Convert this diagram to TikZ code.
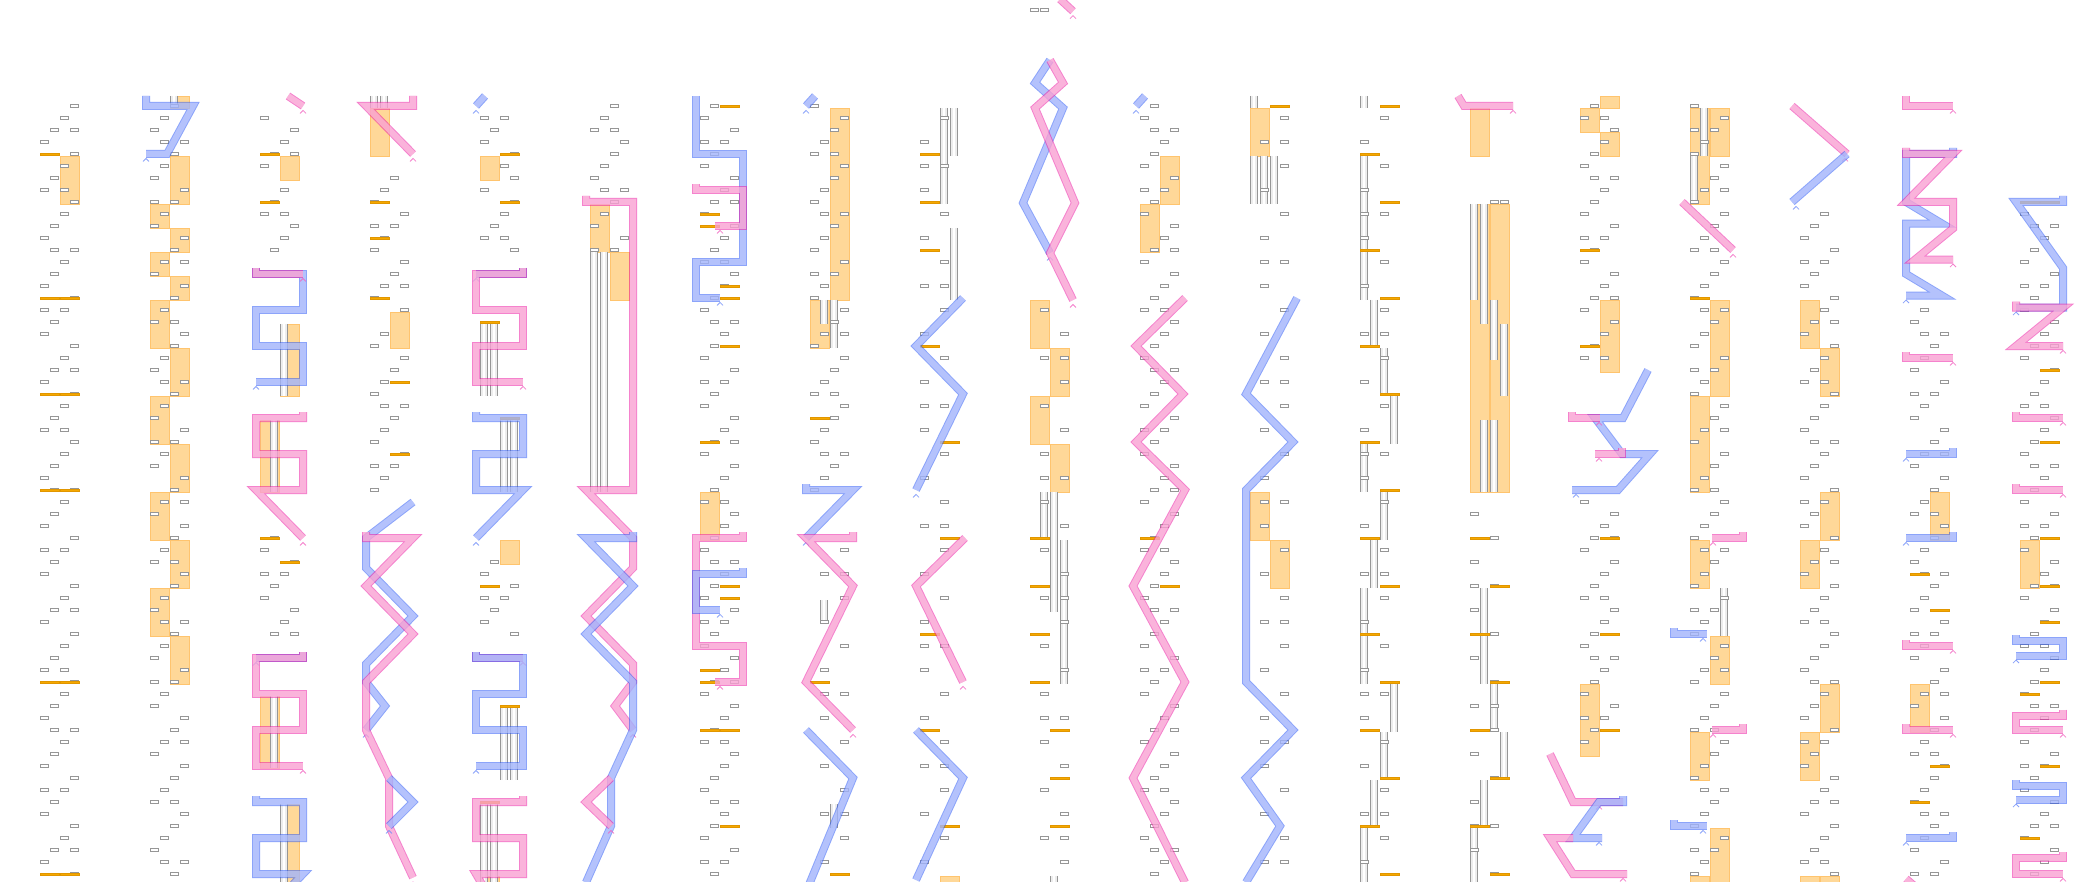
\documentclass[tikz,border=0pt]{standalone}
\definecolor{bE}{RGB}{46,91,246}
\definecolor{bD}{RGB}{213,220,255}
\definecolor{pE}{RGB}{237,28,164}
\definecolor{pD}{RGB}{255,221,232}
\definecolor{orF}{RGB}{255,216,152}
\definecolor{orB}{RGB}{255,196,110}
\definecolor{barF}{RGB}{245,168,0}
\definecolor{barB}{RGB}{225,150,0}
\definecolor{grL}{RGB}{150,150,150}
\tikzset{
 bp/.style={draw=bE,double=bD,line width=1pt,double distance=6pt,opacity=.55,line join=miter},
 pp/.style={draw=pE,double=pD,line width=1pt,double distance=6pt,opacity=.55,line join=miter},
 cbs/.style={draw=bE!70,line width=.8pt,opacity=.8},
 cps/.style={draw=pE!70,line width=.8pt,opacity=.8},
 grs/.style={draw=grL,fill=white,line width=.6pt},
 orf/.style={fill=orF,draw=orB,line width=.6pt},
 obs/.style={fill=barF,draw=barB,line width=.4pt},
}
\newcommand\mygr[2]{\foreach \n in {#2}{%
  \pgfmathtruncatemacro\myj{3-mod(\n+#1,4)}%
  \draw[grs] ({10*\myj},{\n-0.11}) rectangle ({10*\myj+8.5},{\n+0.11});%
  \pgfmathtruncatemacro\myk{mod(\n*7+#1*3,5)}%
  \ifnum\myk=0 \pgfmathtruncatemacro\myjj{mod(\myj+2,4)}\draw[grs] ({10*\myjj},{\n-0.11}) rectangle ({10*\myjj+8.5},{\n+0.11});\fi
}}
\newcommand\myor[3]{\filldraw[orf] ({10*#1},{#2+1/6}) rectangle ({10*#1+19},{#3+1/6});}
\newcommand\myob[2]{\filldraw[obs] ({10*#1},{#2-0.1}) rectangle ({10*#1+19},{#2+0.1});}
\newcommand\mybu[3]{\fill[gray!14] ({10*#1},{#2+1/6}) rectangle ({10*#1+7},{#3+1/6});
 \fill[white] ({10*#1+2.5},{#2+1/6}) rectangle ({10*#1+4.5},{#3+1/6});
 \draw[grL,line width=.7pt] ({10*#1},{#2+1/6}) -- ({10*#1},{#3+1/6}) ({10*#1+7},{#2+1/6}) -- ({10*#1+7},{#3+1/6});}
\newcommand\mycb[2]{\draw[cbs] ({#1-3},{#2+0.62}) -- ({#1},{#2+0.37}) -- ({#1+3},{#2+0.62});}
\newcommand\mycp[2]{\draw[cps] ({#1-3},{#2+0.62}) -- ({#1},{#2+0.37}) -- ({#1+3},{#2+0.62});}
\begin{document}
\begin{tikzpicture}[x=1pt,y=-12pt]
\useasboundingbox (0,-0.83333) rectangle (2100,72.66667);
\fill[white] (0,-0.83333) rectangle (2100,72.66667);
\clip (0,-0.83333) rectangle (2100,72.66667);
% ---- col 0
\begin{scope}[xshift=40pt]
\myor{2}{12}{16}
\mygr{0}{8,...,72}
\myob{0}{12} \myob{0}{24}\myob{2}{24} \myob{0}{32}\myob{2}{32} \myob{0}{40}\myob{2}{40} \myob{0}{56}\myob{2}{56} \myob{0}{72}\myob{2}{72}
\end{scope}
% ---- col 1
\begin{scope}[xshift=150pt]
\myor{2}{7}{8} \mybu{2}{7}{8}
\myor{2}{12}{16} \myor{0}{16}{18} \myor{2}{18}{20} \myor{0}{20}{22} \myor{2}{22}{24} \myor{0}{24}{28} \myor{2}{28}{32} \myor{0}{32}{36} \myor{2}{36}{40} \myor{0}{40}{44} \myor{2}{44}{48} \myor{0}{48}{52} \myor{2}{52}{56}
\mygr{1}{8,...,72}
\draw[bp] (-4,7.1667) -- (-4,8) -- (43,8) -- (17,12) -- (-4,12); \mycb{-4}{12}
\end{scope}
% ---- col 2
\begin{scope}[xshift=260pt]
\mygr{2}{9,...,20} \mygr{2}{44,...,52}
\myob{0}{12} \myor{2}{12}{14} \myob{0}{16}
\myor{2}{26}{32} \mybu{2}{26}{32}
\myor{0}{34}{40} \mybu{1}{34}{40}
\myob{0}{44} \myob{2}{46}
\myor{0}{57}{63} \mybu{1}{57}{63}
\myor{2}{66}{73} \mybu{2}{66}{73}
\draw[pp] (28,7.1667) -- (43,8); \mycp{43}{8}
\draw[bp] (-4,21.5) -- (-4,22) -- (43,22) -- (43,25) -- (-4,25) -- (-4,28) -- (43,28) -- (43,31) -- (-4,31); \mycb{-4}{31}
\draw[pp] (-4,21.5) -- (-4,22) -- (43,22); \mycp{43}{22}
\draw[pp] (43,33.5) -- (43,34) -- (-4,34) -- (-4,37) -- (43,37) -- (43,40) -- (-4,40) -- (43,44); \mycp{43}{44}
\draw[bp] (43,53.5) -- (43,54) -- (-4,54); \mycb{-4}{54}
\draw[pp] (43,53.5) -- (43,54) -- (-4,54) -- (-4,57) -- (43,57) -- (43,60) -- (-4,60) -- (-4,63) -- (43,63); \mycp{43}{63}
\draw[bp] (-4,65.5) -- (-4,66) -- (43,66) -- (43,69) -- (-4,69) -- (-4,72) -- (43,72) -- (20,74);
\end{scope}
% ---- col 3
\begin{scope}[xshift=370pt]
\mybu{0}{7}{8} \mybu{1}{7}{8}
\myor{0}{8}{12}
\mygr{3}{14,...,40}
\myob{0}{16} \myob{0}{19} \myob{0}{24} \myor{2}{25}{28} \myob{2}{31} \myob{2}{37}
\draw[pp] (43,7.1667) -- (43,8) -- (-4,8) -- (43,12); \mycp{43}{12}
\draw[bp] (43,41) -- (-4,44) -- (-4,46.5) -- (43,50.5) -- (-4,54.5) -- (-4,56) -- (15,58) -- (-4,60); \mycb{-4}{60}
\draw[pp] (-4,43.5) -- (-4,44) -- (43,44) -- (-4,48) -- (43,52) -- (-4,56) -- (-4,60) -- (19,64) -- (19,68) -- (43,72.3); \mycp{43}{72.3}
\draw[bp] (19,64) -- (43,66) -- (19,68); \mycb{19}{68}
\end{scope}
% ---- col 4
\begin{scope}[xshift=480pt]
\mygr{4}{9,...,20} \mygr{4}{45,...,52}
\myob{2}{12} \myor{0}{12}{14} \myob{2}{16}
\myob{0}{26} \mybu{0}{26}{32} \mybu{1}{26}{32}
\myob{2}{34} \mybu{2}{34}{40} \mybu{3}{34}{40}
\myor{2}{44}{46} \myob{0}{48}
\myob{2}{58} \mybu{2}{58}{64} \mybu{3}{58}{64}
\myor{0}{72}{73} \myob{0}{66} \mybu{0}{66}{73} \mybu{1}{66}{73}
\draw[bp] (5,7.1667) -- (-4,8); \mycb{-4}{8}
\draw[bp] (43,21.5) -- (43,22) -- (-4,22); \mycb{-4}{22}
\draw[pp] (43,21.5) -- (43,22) -- (-4,22) -- (-4,25) -- (43,25) -- (43,28) -- (-4,28) -- (-4,31) -- (43,31); \mycp{43}{31}
\draw[bp] (-4,33.5) -- (-4,34) -- (43,34) -- (43,37) -- (-4,37) -- (-4,40) -- (43,40) -- (-4,44); \mycb{-4}{44}
\draw[pp] (-4,53.5) -- (-4,54) -- (43,54); \mycp{43}{54}
\draw[bp] (-4,53.5) -- (-4,54) -- (43,54) -- (43,57) -- (-4,57) -- (-4,60) -- (43,60) -- (43,63) -- (-4,63); \mycb{-4}{63}
\draw[pp] (43,65.5) -- (43,66) -- (-4,66) -- (-4,69) -- (43,69) -- (43,72) -- (-4,72) -- (10,74);
\end{scope}
% ---- col 5
\begin{scope}[xshift=590pt]
\myor{0}{16}{20} \myor{2}{20}{24} \mybu{0}{20}{40} \mybu{1}{20}{40}
\mygr{5}{8,...,20}
\draw[pp] (-4,15.5) -- (-4,16) -- (43,16) -- (43,40) -- (-4,40) -- (43,44) -- (43,46.5) -- (-4,50.5) -- (43,54.5) -- (43,56) -- (25,58) -- (43,60); \mycp{43}{60}
\draw[bp] (43,43.5) -- (43,44) -- (-4,44) -- (43,48) -- (-4,52) -- (43,56) -- (43,60) -- (21,64) -- (21,68) -- (-4,72.7);
\draw[pp] (21,64) -- (-4,66) -- (21,68); \mycp{21}{68}
\end{scope}
% ---- col 6
\begin{scope}[xshift=700pt]
\myor{0}{40}{44}
\mygr{6}{8,...,72}
\myob{2}{8} \myob{0}{17} \myob{0}{18} \myob{2}{23} \myob{2}{24} \myob{2}{28} \myob{0}{36} \myob{2}{48} \myob{2}{49} \myob{0}{55} \myob{0}{56} \myob{0}{60} \myob{2}{60} \myob{2}{68}
\draw[bp] (-4,7.1667) -- (-4,12) -- (43,12) -- (43,21) -- (-4,21) -- (-4,24) -- (20,24); \mycb{20}{24}
\draw[pp] (-4,14.5) -- (-4,15) -- (43,15) -- (43,18) -- (15,18); \mycp{20}{18}
\draw[pp] (43,43.5) -- (43,44) -- (-4,44) -- (-4,53) -- (43,53) -- (43,56) -- (15,56); \mycp{20}{56}
\draw[bp] (43,46.5) -- (43,47) -- (-4,47) -- (-4,50) -- (20,50); \mycb{20}{50}
\end{scope}
% ---- col 7
\begin{scope}[xshift=810pt]
\myor{2}{8}{24} \myor{0}{24}{28} \mybu{1}{24}{26} \mybu{2}{24}{28}
\mybu{1}{49}{51} \mybu{2}{66}{68}
\mygr{7}{8,...,40} \mygr{7}{45,47,...,71}
\myob{0}{34} \myob{0}{56} \myob{2}{72}
\draw[bp] (5,7.1667) -- (-4,8); \mycb{-4}{8}
\draw[bp] (-4,39.5) -- (-4,40) -- (43,40) -- (-4,44); \mycb{-4}{44}
\draw[pp] (43,43.5) -- (43,44) -- (-4,44) -- (43,48) -- (-4,56) -- (43,60); \mycp{43}{60}
\draw[bp] (-4,60) -- (43,64) -- (-4,73.5);
\end{scope}
% ---- col 8
\begin{scope}[xshift=920pt]
\mybu{2}{8}{16} \mybu{3}{8}{12} \mybu{3}{18}{24} \myor{2}{72}{73}
\mygr{8}{9,11,...,71}
\myob{0}{12} \myob{0}{16} \myob{0}{20} \myob{0}{28} \myob{2}{36} \myob{2}{44} \myob{0}{52} \myob{0}{60} \myob{2}{68}
\draw[bp] (43,24) -- (-4,28) -- (43,32) -- (-4,40); \mycb{-4}{40}
\draw[pp] (45,44) -- (-4,48) -- (43,56); \mycp{43}{56}
\draw[bp] (-4,60) -- (43,64) -- (-4,72.5); \mycb{-4}{72.5}
\end{scope}
% ---- col 9
\begin{scope}[xshift=1030pt]
\draw[grs] (0,-0.11) rectangle (8.5,0.11); \draw[grs] (10,-0.11) rectangle (18.5,0.11);
\myor{0}{24}{28} \myor{2}{28}{32} \myor{0}{32}{36} \myor{2}{36}{40}
\mybu{1}{40}{44} \mybu{2}{40}{50} \mybu{3}{44}{56} \mybu{2}{72}{73}
\mygr{9}{25,27,...,71}
\myob{0}{44} \myob{0}{48} \myob{0}{52} \myob{0}{56} \myob{2}{60} \myob{2}{64} \myob{2}{68}
\draw[pp] (30,-0.9) -- (43,0.1); \mycp{43}{0.1}
\draw[bp] (20,4.17) -- (5,6.08) -- (33,8.17) -- (-7,16.08) -- (20,20.25); \mycb{20}{20.25}
\draw[pp] (20,4.17) -- (33,6.08) -- (5,8.17) -- (45,16.08) -- (20,20.25) -- (43,24.17); \mycp{43}{24.17}
\end{scope}
% ---- col 10
\begin{scope}[xshift=1140pt]
\myor{2}{12}{16} \myor{0}{16}{20}
\mygr{10}{8,...,72}
\myob{0}{44} \myob{2}{48}
\draw[bp] (5,7.1667) -- (-4,8); \mycb{-4}{8}
\draw[pp] (45,24) -- (-4,28) -- (43,32) -- (-4,36) -- (45,40) -- (-7,48) -- (45,56) -- (-7,64) -- (45,72.7);
\end{scope}
% ---- col 11
\begin{scope}[xshift=1250pt]
\myor{0}{8}{12} \mybu{0}{7}{8} \mybu{0}{12}{16} \mybu{1}{12}{16} \mybu{2}{12}{16}
\myor{0}{40}{44} \myor{2}{44}{48}
\mygr{11}{9,11,...,71}
\myob{2}{8}
\draw[bp] (47,24) -- (-4,32) -- (43,36) -- (-4,40) -- (-4,56) -- (43,60) -- (-4,64) -- (30,68) -- (-4,72.7);
\end{scope}
% ---- col 12
\begin{scope}[xshift=1360pt]
\mybu{0}{7}{8} \mybu{0}{12}{24} \mybu{1}{24}{28} \mybu{2}{28}{32} \mybu{3}{32}{36} \mybu{0}{36}{40} \mybu{2}{40}{44} \mybu{1}{44}{48} \mybu{0}{48}{56} \mybu{3}{56}{60} \mybu{2}{60}{64} \mybu{1}{64}{68} \mybu{0}{68}{73}
\mygr{12}{9,11,...,71}
\foreach \m in {8,16,...,72}{\myob{2}{\m}}
\foreach \m in {12,20,...,68}{\myob{0}{\m}}
\end{scope}
% ---- col 13
\begin{scope}[xshift=1470pt]
\myor{0}{8}{12}
\myor{0}{16}{40} \myor{2}{16}{40}
\mybu{0}{16}{24} \mybu{1}{16}{26} \mybu{2}{24}{29} \mybu{3}{26}{32} \mybu{1}{34}{40} \mybu{2}{34}{40}
\mybu{1}{48}{56} \mybu{2}{56}{60} \mybu{3}{60}{64} \mybu{1}{64}{68} \mybu{0}{68}{73}
\draw[grs] (20,15.89) rectangle (28.5,16.11); \draw[grs] (30,15.89) rectangle (38.5,16.11);
\mygr{13}{42,44,...,72}
\foreach \m in {44,52,60,68}{\myob{0}{\m}}
\foreach \m in {48,56,64,72}{\myob{2}{\m}}
\draw[pp] (-12,7.1667) -- (-6,8) -- (43,8); \mycp{43}{8}
\end{scope}
% ---- col 14
\begin{scope}[xshift=1580pt]
\myor{0}{8}{10} \myor{2}{7}{8} \myor{2}{10}{12}
\myor{2}{24}{30} \myor{0}{56}{62}
\mygr{14}{8,...,29} \mygr{14}{41,...,61}
\myob{0}{20} \myob{0}{28} \myob{2}{44} \myob{2}{52} \myob{2}{60}
\draw[bp] (68,30) -- (43,34) -- (15,34) -- (42,37) -- (70,37) -- (38,40) -- (-8,40); \mycb{-4}{40}
\draw[pp] (-8,33.5) -- (-8,34) -- (20,34); \mycp{19}{34}
\draw[pp] (42,36.5) -- (42,37) -- (15,37); \mycp{19}{37}
\draw[pp] (-30,62) -- (-7,66) -- (43,66); \mycp{19}{66}
\draw[bp] (43,65.5) -- (43,66) -- (19,66) -- (-7,69) -- (22,69); \mycb{19}{69}
\draw[pp] (-7,69) -- (-30,69) -- (-7,72) -- (47,72); \mycp{43}{72}
\end{scope}
% ---- col 15
\begin{scope}[xshift=1690pt]
\myor{0}{8}{16} \myor{2}{8}{12} \mybu{1}{8}{12} \mybu{0}{12}{16}
\myor{2}{24}{32} \myor{0}{32}{40}
\myor{0}{44}{48} \mybu{3}{48}{52} \myor{2}{52}{56} \myor{0}{60}{64} \myor{2}{68}{73} \myor{0}{72}{73}
\mygr{15}{8,...,72}
\myob{0}{24}
\draw[pp] (-8,16) -- (43,20); \mycp{43}{20}
\draw[pp] (53,43.5) -- (53,44) -- (22,44); \mycp{23}{44}
\draw[bp] (-16,51.5) -- (-16,52) -- (17,52); \mycb{13}{52}
\draw[pp] (53,59.5) -- (53,60) -- (22,60); \mycp{23}{60}
\draw[bp] (-16,67.5) -- (-16,68) -- (17,68); \mycb{13}{68}
\end{scope}
% ---- col 16
\begin{scope}[xshift=1800pt]
\myor{0}{24}{28} \myor{2}{28}{32} \myor{2}{40}{44} \myor{0}{44}{48} \myor{2}{56}{60} \myor{0}{60}{64} \myor{0}{72}{73} \myor{2}{72}{73}
\mygr{16}{17,...,72}
\draw[pp] (-8,8) -- (47,12); \mycp{45}{12}
\draw[bp] (47,12) -- (-8,16); \mycb{-4}{16}
\end{scope}
% ---- col 17
\begin{scope}[xshift=1910pt]
\myor{2}{40}{44} \myor{0}{56}{60}
\mygr{17}{25,...,72}
\myob{0}{47} \myob{2}{50} \myob{2}{63} \myob{0}{66}
\draw[pp] (-4,7.1667) -- (-4,8) -- (43,8); \mycp{43}{8}
\draw[bp] (43,11.5) -- (43,12) -- (-4,12) -- (-4,16) -- (32,17.8) -- (-4,17.8) -- (-4,22) -- (32,23.8) -- (-4,23.8); \mycb{-4}{23.8}
\draw[pp] (-4,11.5) -- (-4,12) -- (43,12) -- (-4,16) -- (43,16) -- (43,18.2) -- (5,20.8) -- (43,20.8); \mycp{43}{20.8}
\draw[pp] (-4,28.5) -- (-4,29) -- (43,29); \mycp{43}{29}
\draw[bp] (43,36.5) -- (43,37) -- (-4,37); \mycb{-4}{37}
\draw[bp] (43,43.5) -- (43,44) -- (-4,44); \mycb{-4}{44}
\draw[pp] (-4,52.5) -- (-4,53) -- (43,53); \mycp{43}{53}
\draw[pp] (-4,59.5) -- (-4,60) -- (43,60); \mycp{43}{60}
\draw[bp] (43,68.5) -- (43,69) -- (-4,69); \mycb{-4}{69}
\draw[pp] (-4,72.4) -- (10,73.4);
\end{scope}
% ---- col 18
\begin{scope}[xshift=2020pt]
\myor{0}{44}{48}
\mygr{18}{17,...,72}
\myob{0}{16} \myob{2}{16} \myob{2}{30} \myob{2}{36} \myob{2}{44} \myob{2}{48} \myob{2}{51} \myob{2}{56} \myob{0}{57} \myob{2}{63} \myob{0}{69}
\draw[bp] (43,15.5) -- (43,16) -- (-4,16) -- (43,21.5) -- (43,24.8) -- (-4,24.8); \mycb{-4}{24.8}
\draw[pp] (-4,24.3) -- (-4,24.8) -- (43,24.8) -- (-4,28) -- (43,28); \mycp{43}{28}
\draw[pp] (-4,33.5) -- (-4,34) -- (43,34); \mycp{43}{34}
\draw[pp] (-4,39.5) -- (-4,40) -- (43,40); \mycp{43}{40}
\draw[bp] (-4,52.1) -- (-4,52.6) -- (43,52.6) -- (43,53.8) -- (-4,53.8); \mycb{-4}{53.8}
\draw[pp] (43,58.3) -- (43,58.8) -- (-4,58.8) -- (-4,60) -- (43,60); \mycp{43}{60}
\draw[bp] (-4,64.2) -- (-4,64.7) -- (43,64.7) -- (43,65.8) -- (-4,65.8); \mycb{-4}{65.8}
\draw[pp] (43,70.2) -- (43,70.7) -- (-4,70.7) -- (-4,72) -- (43,72); \mycp{43}{72}
\end{scope}
\end{tikzpicture}
\end{document}
